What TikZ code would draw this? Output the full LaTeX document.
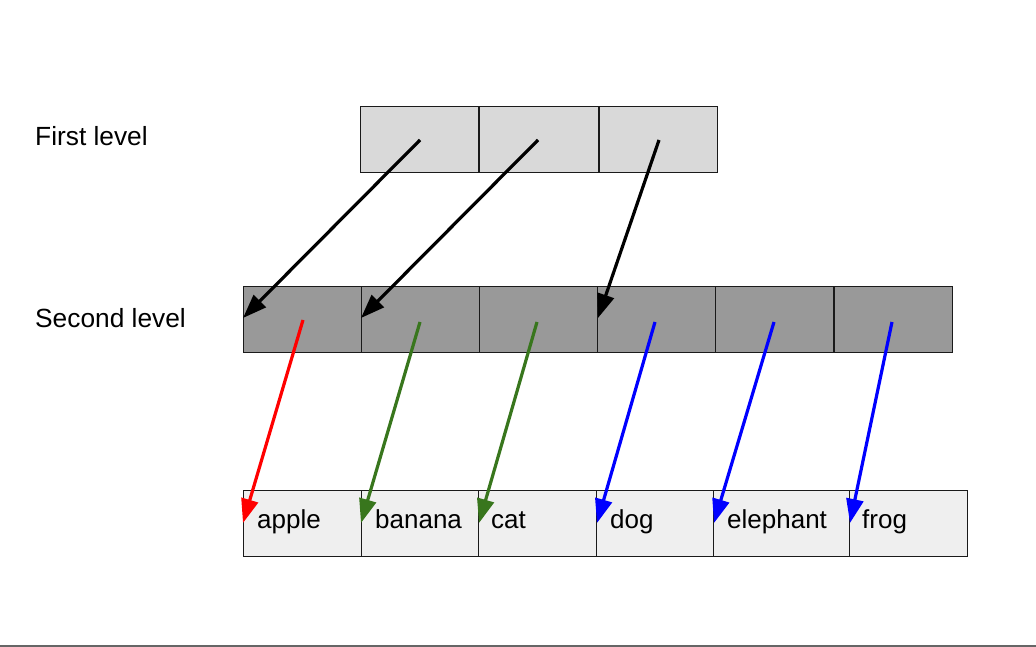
\documentclass[tikz,border=0pt]{standalone}
\usepackage{fontspec}
\setmainfont{Liberation Sans}
\usetikzlibrary{arrows.meta}
\definecolor{topfill}{HTML}{D9D9D9}
\definecolor{midfill}{HTML}{999999}
\definecolor{botfill}{HTML}{EFEFEF}
\definecolor{dgreen}{HTML}{38761D}
\definecolor{edgec}{HTML}{1A1A1A}
\begin{document}
\begin{tikzpicture}[x=1pt,y=-1pt,
  cell/.style={draw=edgec,line width=1.4pt,anchor=north west,inner sep=0pt,minimum height=66pt},
  topcell/.style={cell,fill=topfill},
  midcell/.style={cell,fill=midfill},
  botcell/.style={cell,fill=botfill},
  word/.style={anchor=base west,inner sep=0pt,font=\fontsize{26}{30}\selectfont},
  lbl/.style={anchor=base west,inner sep=0pt,font=\fontsize{26.3}{30}\selectfont},
  ptr/.style={line width=3.2pt,-{Triangle[length=24pt,width=17pt]}}]
\useasboundingbox (0,0) rectangle (1036,647);
\draw[color=black!60,line width=1.6pt] (0,646) -- (1036,646);
% labels
\node[lbl] (l1) at (35,146) {First level};
\node[lbl] (l2) at (35,327) {Second level};
% first level
\node[topcell,minimum width=118pt] (t1) at (360,106) {};
\node[topcell,minimum width=119pt] (t2) at (479,106) {};
\node[topcell,minimum width=118pt] (t3) at (599,106) {};
% second level
\node[midcell,minimum width=118pt] (m1) at (243,286) {};
\node[midcell,minimum width=118pt] (m2) at (361,286) {};
\node[midcell,minimum width=118pt] (m3) at (479,286) {};
\node[midcell,minimum width=118pt] (m4) at (597,286) {};
\node[midcell,minimum width=118pt] (m5) at (715,286) {};
\node[midcell,minimum width=118pt] (m6) at (834,286) {};
% third level
\node[botcell,minimum width=118pt] (b1) at (243,490) {};
\node[botcell,minimum width=117pt] (b2) at (361,490) {};
\node[botcell,minimum width=118pt] (b3) at (478,490) {};
\node[botcell,minimum width=117pt] (b4) at (596,490) {};
\node[botcell,minimum width=136pt] (b5) at (713,490) {};
\node[botcell,minimum width=118pt] (b6) at (849,490) {};
\node[word] (w1) at (257,528) {apple};
\node[word] (w2) at (375,528) {banana};
\node[word] (w3) at (491,528) {cat};
\node[word] (w4) at (610,528) {dog};
\node[word] (w5) at (727,528) {elephant};
\node[word] (w6) at (862,528) {frog};
% pointer coordinates
\coordinate (s1) at (420,140);
\coordinate (s2) at (538,140);
\coordinate (s3) at (659,140);
\coordinate (e1) at (243,318);
\coordinate (e2) at (361,318);
\coordinate (e3) at (598,318);
\coordinate (p1) at (303,320);
\coordinate (p2) at (420,322);
\coordinate (p3) at (537,322);
\coordinate (p4) at (655,322);
\coordinate (p5) at (774,322);
\coordinate (p6) at (892,322);
\coordinate (q1) at (243,523);
\coordinate (q2) at (361,523);
\coordinate (q3) at (479,523);
\coordinate (q4) at (597,523);
\coordinate (q5) at (714,523);
\coordinate (q6) at (850,523);
\draw[ptr,black] (s1) -- (e1);
\draw[ptr,black] (s2) -- (e2);
\draw[ptr,black] (s3) -- (e3);
\draw[ptr,red] (p1) -- (q1);
\draw[ptr,dgreen] (p2) -- (q2);
\draw[ptr,dgreen] (p3) -- (q3);
\draw[ptr,blue] (p4) -- (q4);
\draw[ptr,blue] (p5) -- (q5);
\draw[ptr,blue] (p6) -- (q6);
\end{tikzpicture}
\end{document}
